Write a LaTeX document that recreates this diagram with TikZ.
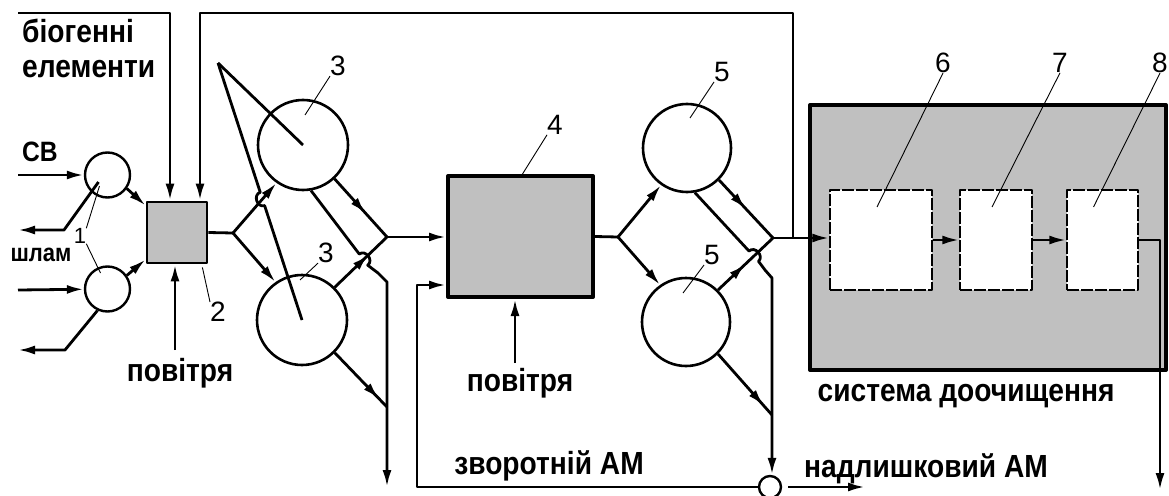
\documentclass[tikz,border=0pt]{standalone}
\usepackage{fontspec}
\setmainfont{Liberation Sans}
\newfontfamily\narrowfont{Liberation Sans}[FakeStretch=0.88]
\usetikzlibrary{shapes,arrows,arrows.meta,positioning,calc,decorations.markings}
\definecolor{tankgray}{RGB}{192,192,192}
\tikzstyle{tank} = [draw, circle, line width=2.6pt, inner sep=0pt, minimum size=88pt]
\tikzstyle{pump} = [draw, circle, line width=2.4pt, inner sep=0pt, minimum size=45pt]
\tikzstyle{block} = [draw, fill=tankgray, rectangle, line width=3pt, inner sep=0pt]
\tikzstyle{stage} = [draw, fill=white, rectangle, line width=1.4pt, dash pattern=on 12pt off 2pt, inner sep=0pt, minimum height=100pt]
\tikzstyle{input} = [coordinate]
\tikzstyle{output} = [coordinate]
\tikzstyle{txt} = [font=\narrowfont\fontsize{32}{35}\selectfont\bfseries, inner sep=0pt]
\tikzstyle{num} = [font=\fontsize{28}{30}\selectfont, inner sep=0pt]
\tikzstyle{flow} = [line width=2.8pt]
\tikzstyle{lead} = [line width=0.9pt]
\tikzset{midarrow/.style={postaction={decorate},
    decoration={markings, mark=at position #1 with {\arrow{>}}}}}

\begin{document}
\begin{tikzpicture}[x=1pt, y=-1pt, auto, node distance=115pt, >={Latex[length=17pt,width=9pt]}, line join=round]
    \useasboundingbox (0,0) rectangle (1169,495);
    % Primary settlers and mixer
    \node [pump] (c1a) at (107.5,175) {};
    \node [pump] (c1b) at (107.5,289) {};
    \node [block, line width=2.8pt, minimum width=60pt, minimum height=61pt] (b2) at (177,232.5) {};
    % Aeration tanks
    \node [tank, minimum size=90pt] (c3a) at (303,145) {};
    \node [tank, minimum size=90pt] (c3b) at (302,320) {};
    \node [block, line width=4pt, minimum width=145pt, minimum height=121pt] (b4) at (520.5,236.5) {};
    % Secondary settlers
    \node [tank] (c5a) at (687,148) {};
    \node [tank] (c5b) at (686,322) {};
    \node [draw, circle, line width=2.4pt, minimum size=22pt, inner sep=0pt] (sc) at (770,487) {};
    % Tertiary treatment
    \node [block, line width=4pt, minimum width=356pt, minimum height=265pt] (sys) at (988,237.5) {};
    \node [stage, minimum width=102pt] (b6) at (881,240) {};
    \node [stage, minimum width=72pt, right of=b6] (b7) {};
    \node [stage, minimum width=71pt, right of=b7, node distance=106.5pt] (b8) {};

    % Texts
    \node [txt, align=left, anchor=north west] (biotxt) at (22,19) {біогенні\\елементи};
    \node [txt, font=\narrowfont\fontsize{28}{30}\selectfont\bfseries] (sv) at (40,152) {СВ};
    \node [txt, font=\narrowfont\fontsize{25}{30}\selectfont\bfseries] (shl) at (41,255) {шлам};
    \node [txt] (air2) at (180,373) {повітря};
    \node [txt] (air4) at (520,383) {повітря};
    \node [txt] (rettxt) at (549,466) {зворотній АМ};
    \node [txt] (exctxt) at (926,469) {надлишковий АМ};
    \node [txt] (terttxt) at (966,396) {система доочищення};
    \node [num, font=\fontsize{22}{24}\selectfont] (n1) at (80,236) {1};
    \node [num] (n2) at (218,312) {2};
    \node [num] (n3a) at (338,66) {3};
    \node [num] (n3b) at (326,253) {3};
    \node [num] (n4) at (555,125) {4};
    \node [num] (n5a) at (722,72) {5};
    \node [num] (n5b) at (712,255) {5};
    \node [num] (n6) at (943,63) {6};
    \node [num] (n7) at (1060,63) {7};
    \node [num] (n8) at (1160,63) {8};

    % Points
    \node [input] (inA) at (18,175) {};
    \node [input] (inB) at (18,290) {};
    \node [input] (fbio) at (18,13) {};
    \node [input] (a2) at (175,350) {};
    \node [input] (a4) at (515,363) {};
    \node [output] (slA) at (18,230) {};
    \node [output] (slB) at (18,350) {};
    \node [output] (o3) at (387,487) {};
    \node [output] (out8) at (1160,490) {};
    \node [output] (exA) at (865,487) {};
    \coordinate (kA) at (64,230);
    \coordinate (kB) at (65,350);
    \coordinate (j1) at (233,233);
    \coordinate (j2) at (387,237);
    \coordinate (j4) at (618,237);
    \coordinate (j3) at (773,238);
    \coordinate (rt) at (793,238);
    \coordinate (rtop) at (200,13);
    \coordinate (apx) at (218,63);
    \coordinate (fb) at (417,285);
    \coordinate (t3) at (378,273);
    \coordinate (v3) at (387,282);
    \coordinate (m3) at (387,407);
    \coordinate (t5) at (765,270);
    \coordinate (v5) at (772,278);
    \coordinate (m5) at (772,415);
    \coordinate (x1) at ($(apx)!0.529!(c3b.center)$);
    \coordinate (x2) at ($(c3b.45)!0.55!(j2)$);
    \coordinate (x3) at ($(c5b.45)!0.65!(j3)$);
    \coordinate (h1a) at ($(x1)!7pt!(apx)$);
    \coordinate (h1b) at ($(x1)!-7pt!(apx)$);
    \coordinate (h2a) at ($(x2)!7pt!(c3a.-80)$);
    \coordinate (h2b) at ($(x2)!-7pt!(c3a.-80)$);
    \coordinate (h3a) at ($(x3)!7pt!(c5a.-80)$);
    \coordinate (h3b) at ($(x3)!-7pt!(c5a.-80)$);

    % Connections
    \draw [flow,->] (inA) -- (c1a);
    \draw [flow,->] (inB) -- (c1b);
    \draw [flow,->] ($(c1a.center)+(-9,7)$) -- (kA) -- (slA);
    \draw [flow,->] (c1b.-115) -- (kB) -- (slB);
    \draw [flow,->] (c1a.-35) -- ($(b2.north west)+(0,5)$);
    \draw [flow,->] (c1b.35) -- ($(b2.south west)+(0,-5)$);
    \draw [flow,->] (fbio) -| ($(b2.north)+(-7,0)$);
    \draw [flow,->] (rt) |- (rtop) -- (rtop |- b2.north);
    \draw [flow,->] (a2) -- (a2 |- b2.south);
    \draw [flow] (b2.east) -- (j1);
    \draw [flow,->] (j1) -- (c3a.-125);
    \draw [flow,->] (j1) -- (c3b.125);
    \draw [flow] (apx) -- (c3a.center);
    \draw [flow] (apx) -- (h1a) .. controls ($(h1a)!8pt!-90:(h1b)$) and ($(h1b)!8pt!90:(h1a)$) .. (h1b) -- (c3b.center);
    \draw [flow,midarrow=0.6] (c3a.-47) -- (j2);
    \draw [flow,midarrow=0.65] (c3b.45) -- (j2);
    \draw [flow,->] (c3a.-80) -- (h2a) .. controls ($(h2a)!8pt!90:(h2b)$) and ($(h2b)!8pt!-90:(h2a)$) .. (h2b) -- (t3) -- (v3) -- (o3);
    \draw [flow,midarrow=0.85] (c3b.-45) -- (m3);
    \draw [flow,->] (j2) -- (j2 -| b4.west);
    \draw [flow,->] (sc.west) -| (fb) -- (fb -| b4.west);
    \draw [flow,->] (a4) -- (a4 |- b4.south);
    \draw [flow] (b4.east) -- (j4);
    \draw [flow,->] (j4) -- (c5a.-125);
    \draw [flow,->] (j4) -- (c5b.125);
    \draw [flow,midarrow=0.5] (c5a.-45) -- (j3);
    \draw [flow,midarrow=0.5] (c5b.45) -- (j3);
    \draw [flow,->] (c5a.-80) -- (h3a) .. controls ($(h3a)!8pt!90:(h3b)$) and ($(h3b)!8pt!-90:(h3a)$) .. (h3b) -- (t5) -- (v5) -- (v5 |- sc.north);
    \draw [flow,midarrow=0.85] (c5b.-45) -- (m5);
    \draw [flow,->] ($(sc.east)+(6,0)$) -- (exA);
    \draw [flow,->] (j3) -- (j3 -| b6.west);
    \draw [flow,->] (b6) -- (b7);
    \draw [flow,->] (b7) -- (b8);
    \draw [flow,->] (b8.east) -- (b8.east -| out8) -- (out8);

    % Leaders
    \draw [lead] (n1.north east) -- ($(c1a.center)+(-8,11)$);
    \draw [lead] (n1.south east) -- ($(c1b.center)+(-7,-16)$);
    \draw [lead] ($(b2.south east)+(-6,3)$) -- (n2.north west);
    \draw [lead] (n3a.south west) -- ($(c3a.center)+(2,-30)$);
    \draw [lead] (n3b.south west) -- ($(c3b.center)+(-2,-40)$);
    \draw [lead] (n4.south west) -- ($(b4.north)+(2,0)$);
    \draw [lead] (n5a.south west) -- ($(c5a.center)+(3,-30)$);
    \draw [lead] (n5b.south west) -- ($(c5b.center)+(-3,-29)$);
    \draw [lead] (n6.south) -- ($(b6.center)+(-4,-33)$);
    \draw [lead] (n7.south) -- ($(b7.center)+(-4,-33)$);
    \draw [lead] (n8.south) -- ($(b8.center)+(-9,-33)$);
\end{tikzpicture}
\end{document}
